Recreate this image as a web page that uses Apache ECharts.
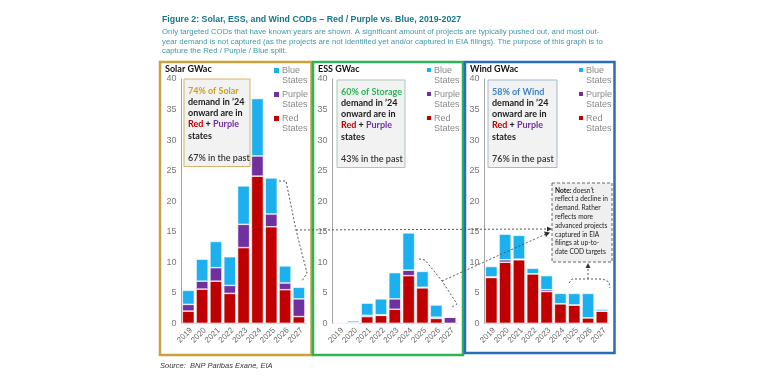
<!DOCTYPE html>
<html>
<head>
<meta charset="utf-8">
<script src="https://cdn.jsdelivr.net/npm/echarts@6/dist/echarts.min.js"></script>
<style>html,body{margin:0;padding:0;background:#fff;}#c{width:781px;height:386px;}</style>
</head>
<body>
<div id="c"></div>
<script>
const years = ['2019','2020','2021','2022','2023','2024','2025','2026','2027'];
const yTicks = [0,5,10,15,20,25,30,35,40];

const solarRed    = [2.0, 5.6, 6.9, 4.9, 12.4, 24.1, 15.8, 5.5, 1.1];
const solarPurple = [1.1, 1.3, 2.2, 1.3, 3.8, 3.3, 2.1, 1.1, 2.9];
const solarBlue   = [2.3, 3.6, 4.3, 4.7, 6.3, 9.4, 5.9, 2.8, 1.9];

const essRed    = [0, 0, 1.1, 1.3, 2.3, 7.8, 5.8, 0.8, 0];
const essPurple = [0.15, 0.1, 0.2, 0.1, 1.7, 0.9, 0.1, 0.2, 1.0];
const essBlue   = [0, 0.3, 2.0, 2.6, 4.3, 6.1, 2.6, 2.0, 0];

const windRed    = [7.5, 10.0, 10.4, 8.1, 5.2, 3.2, 3.0, 0.9, 2.0];
const windPurple = [0.1, 0.4, 0.1, 0, 0.3, 0, 0, 0, 0];
const windBlue   = [1.7, 4.2, 3.9, 0.9, 2.3, 1.7, 1.9, 4.0, 0.3];

const seriesNames = ['Blue States', 'Purple States', 'Red States'];

const RED = '#c00000', PURPLE = '#7030a0', BLUE = '#1cb0ee';
const SANS = '"Liberation Sans", Arial, sans-serif';
const CAL = 'Lato, "Open Sans", sans-serif';

const panels = [
  {key:'solar', title:'Solar GWac', red:solarRed, purple:solarPurple, blue:solarBlue, left:181.4,
   border:'#c9a23a', box:'#d2b568', accent:'#c8a02c', pct:'74% of Solar', past:'67% in the past',
   frame:[160,62,151.5,293], legX:274, legSize:5, boxX:184, boxY:79, boxW:66},
  {key:'ess', title:'ESS GWac', red:essRed, purple:essPurple, blue:essBlue, left:332.6,
   border:'#2db35a', box:'#a9c9b6', accent:'#2fb35a', pct:'60% of Storage', past:'43% in the past',
   frame:[313,62,150,293], legX:427, legSize:4, boxX:337, boxY:80, boxW:68},
  {key:'wind', title:'Wind GWac', red:windRed, purple:windPurple, blue:windBlue, left:484.4,
   border:'#2b6cb6', box:'#a3b9d0', accent:'#3a86c8', pct:'58% of Wind', past:'76% in the past',
   frame:[465,62,149.5,291], legX:579, legSize:4, boxX:488, boxY:80, boxW:69}
];

const grids = [], xAxes = [], yAxes = [], series = [], graphic = [];

panels.forEach((p, i) => {
  grids.push({left: p.left, width: 124.4, top: 79, height: 244.3});
  xAxes.push({
    type:'category', gridIndex:i, data: years,
    axisLine:{show:true, lineStyle:{color:'#d0d0d0'}}, axisTick:{show:false},
    axisLabel:{rotate:45, fontSize:8, color:'#666', fontFamily:SANS, margin:3, interval:0, verticalAlign:'top'}
  });
  yAxes.push({
    type:'value', gridIndex:i, min:0, max:40, interval:5,
    axisLine:{show:true, lineStyle:{color:'#a6a6a6'}}, axisTick:{show:false},
    splitLine:{show:false},
    axisLabel:{fontSize:9, color:'#777', fontFamily:SANS, margin:5,
      formatter: v => yTicks.includes(v) ? String(v) : ''}
  });
  const vals = [p.blue, p.purple, p.red];
  const cols = [BLUE, PURPLE, RED];
  [2,1,0].forEach(k => {
    series.push({
      type:'bar', name: seriesNames[k], xAxisIndex:i, yAxisIndex:i, stack:'s'+i,
      data: vals[k], barCategoryGap:'13%',
      itemStyle:{color: cols[k], borderColor:'#fff', borderWidth:0.6},
      emphasis:{disabled:true}
    });
  });

  // panel frame
  graphic.push({type:'rect', z:1, silent:true,
    shape:{x:p.frame[0], y:p.frame[1], width:p.frame[2], height:p.frame[3]},
    style:{fill:'none', stroke:p.border, lineWidth:2.5}});
  // panel title
  graphic.push({type:'text', z:10, x:p.frame[0]+5, y:64.5,
    style:{text:p.title, font:'bold 9px '+CAL, fill:'#111'}});
  // legend (drawn)
  seriesNames.forEach((nm, j) => {
    const y0 = 66 + j*24;
    graphic.push({type:'rect', z:10, shape:{x:p.legX, y:y0+2, width:p.legSize, height:p.legSize},
      style:{fill: cols[j]}});
    graphic.push({type:'text', z:10, x:p.legX + p.legSize + 3, y:y0,
      style:{text: nm.replace(' ', '\n'), font:'9px '+SANS, fill:'#8a8a8a', lineHeight:10}});
  });
  // annotation box
  graphic.push({type:'rect', z:10, shape:{x:p.boxX, y:p.boxY, width:p.boxW, height:87.5},
    style:{fill:'#f2f2f2', stroke:p.box, lineWidth:1}});
  graphic.push({type:'text', z:11, x:p.boxX+4, y:p.boxY+6,
    style:{
      text:'{a|'+p.pct+'}\n{k|demand in \u201924}\n{k|onward are in}\n{r|Red}{k| + }{p|Purple}\n{k|states}\n{k| }\n{n|'+p.past+'}',
      rich:{
        a:{fill:p.accent, font:'bold 9px '+CAL, lineHeight:11.3},
        k:{fill:'#1a1a1a', font:'bold 9px '+CAL, lineHeight:11.3},
        r:{fill:RED, font:'bold 9px '+CAL, lineHeight:11.3},
        p:{fill:PURPLE, font:'bold 9px '+CAL, lineHeight:11.3},
        n:{fill:'#333', font:'600 9px '+CAL, lineHeight:11.3}
      }
    }});
});

// Note box
graphic.push({type:'rect', z:12, shape:{x:552, y:183, width:60, height:79},
  style:{fill:'#efefef', stroke:'#6a6a6a', lineWidth:1, lineDash:[3,2]}});
graphic.push({type:'text', z:13, x:555, y:186,
  style:{
    text:'{b|Note:}{t| doesn\u2019t}\n{t|reflect a decline in}\n{t|demand. Rather}\n{t|reflects more}\n{t|advanced projects}\n{t|captured in EIA}\n{t|filings at up-to-}\n{t|date COD targets}',
    rich:{
      b:{font:'bold 6.6px '+CAL, fill:'#111', lineHeight:8.8},
      t:{font:'6.6px '+CAL, fill:'#222', lineHeight:8.8}
    }
  }});

// dashed annotation lines
const dash = {stroke:'#555', lineWidth:1, lineDash:[2,2], fill:'none'};
function pl(points){ graphic.push({type:'polyline', z:14, silent:true, shape:{points}, style:dash}); }
function tri(points){ graphic.push({type:'polygon', z:14, silent:true, shape:{points}, style:{fill:'#333'}}); }
pl([[279,181],[286,181],[296,230],[307,273],[302,281]]);
pl([[296,230],[547,229]]);
tri([[547,226.5],[552,229],[547,231.5]]);
pl([[419,259],[425,260],[442,281],[457,304],[452,307]]);
pl([[442,281],[546,234]]);
tri([[544,231.5],[550,232.5],[546,237]]);
pl([[569,283],[572,279],[603,279],[609,282],[610,288]]);
pl([[588,279],[588,267]]);
tri([[585.5,268],[588,263],[590.5,268]]);

// header texts
graphic.push({type:'text', z:10, x:162, y:15,
  style:{text:'Figure 2: Solar, ESS, and Wind CODs \u2013 Red / Purple vs. Blue, 2019-2027', font:'bold 8.8px '+SANS, fill:'#13778a'}});
graphic.push({type:'text', z:10, x:162, y:27,
  style:{text:'Only targeted CODs that have known years are shown. A significant amount of projects are typically pushed out, and most out-\nyear demand is not captured (as the projects are not identified yet and/or captured in EIA filings). The purpose of this graph is to\ncapture the Red / Purple / Blue split.',
    font:'7.8px '+SANS, fill:'#3f98aa', lineHeight:9.7}});
graphic.push({type:'text', z:10, x:160, y:362,
  style:{text:'Source:  BNP Paribas Exane, EIA', font:'italic 7.5px '+SANS, fill:'#333'}});

const chart = echarts.init(document.getElementById('c'), null, {renderer:'canvas'});
chart.setOption({
  animation:false,
  backgroundColor:'#fff',
  grid: grids, xAxis: xAxes, yAxis: yAxes, series: series,
  graphic: graphic
});
</script>
</body>
</html>
